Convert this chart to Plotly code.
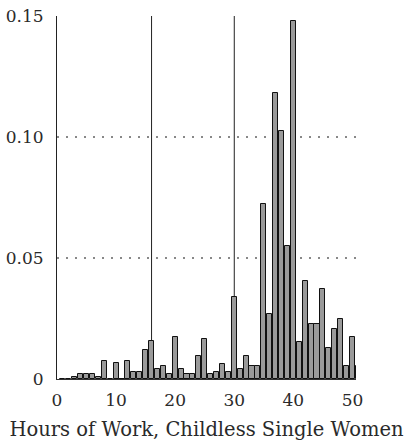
import plotly.graph_objects as go

# Share of childless single women by weekly hours of work
hours = list(range(1, 52))
shares = [
    0.0, 0.0, 0.0008, 0.002, 0.002, 0.002, 0.001, 0.0075, 0.0, 0.0065,
    0.0, 0.0075, 0.003, 0.003, 0.0118, 0.0155, 0.004, 0.0054, 0.002, 0.0174,
    0.004, 0.002, 0.002, 0.0095, 0.0165, 0.002, 0.003, 0.0063, 0.003, 0.034,
    0.004, 0.0095, 0.0055, 0.0055, 0.0723, 0.027, 0.118, 0.1024, 0.0549, 0.148,
    0.0153, 0.0404, 0.0229, 0.0229, 0.0373, 0.0128, 0.0207, 0.0249, 0.0052, 0.0173,
    0.0052,
]
marker_hours = [16, 30]
x_ticks = [0, 10, 20, 30, 40, 50]
y_ticks = [0, 0.05, 0.10, 0.15]
y_tick_labels = ["0", "0.05", "0.10", "0.15"]

FONT = "DejaVu Serif"

fig = go.Figure()
fig.add_trace(go.Bar(
    x=hours, y=shares, width=0.85,
    marker=dict(color="#9a9a9a", line=dict(color="#111111", width=1)),
    showlegend=False,
))

for h in marker_hours:
    fig.add_shape(type="line", xref="x", yref="y", x0=h, x1=h, y0=0, y1=0.15,
                  line=dict(color="#222222", width=1), layer="below")

fig.update_layout(
    width=407, height=441,
    margin=dict(l=57, r=51, t=16, b=62),
    paper_bgcolor="white", plot_bgcolor="white",
    font=dict(family=FONT, size=17, color="#2a2a2a"),
    bargap=0,
    xaxis=dict(
        range=[0, 50.6], tickvals=x_ticks, showgrid=False, zeroline=False,
        showline=True, linecolor="#333333", linewidth=1, ticks="",
        ticklabelstandoff=6, automargin=False,
        title=dict(text="Hours of Work, Childless Single Women", standoff=12,
                   font=dict(family=FONT, size=19.5)),
    ),
    yaxis=dict(
        range=[0, 0.15], tickvals=y_ticks, ticktext=y_tick_labels,
        showgrid=True, gridcolor="#888888", gridwidth=1.5, griddash="2px,7px",
        zeroline=False, showline=True, linecolor="#222222", linewidth=1,
        ticks="", ticklabelstandoff=9, automargin=False,
    ),
)

fig.write_html("out.html")
